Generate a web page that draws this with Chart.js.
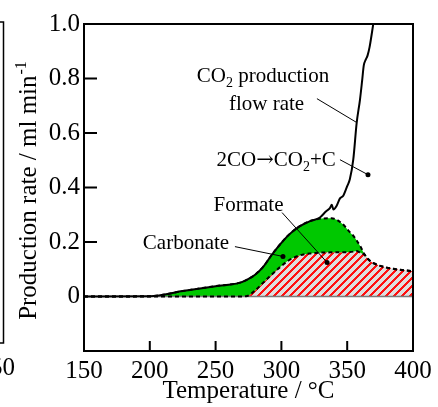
<!DOCTYPE html>
<html>
<head>
<meta charset="utf-8">
<script src="https://cdn.jsdelivr.net/npm/chart.js@4.4.1/dist/chart.umd.min.js"></script>
<style>
  html, body { margin: 0; padding: 0; background: #fff; }
  #wrap { width: 438px; height: 407px; position: relative; }
</style>
</head>
<body>
<div id="wrap"><canvas id="tprChart"></canvas></div>
<script>
// shared temperature grid for the two stacked areas (°C)
const tempGrid    = [150, 200, 225, 250, 268, 274, 280, 286, 293, 300, 306, 314, 322, 330, 338, 346, 352, 355, 357, 360, 363, 367, 372, 380, 390, 400];
// formate (hatched, from zero)
const formateRate = [0, 0, 0, 0, 0, 0.002, 0.022, 0.05, 0.082, 0.112, 0.134, 0.151, 0.158, 0.161, 0.162, 0.162, 0.163, 0.165, 0.167, 0.161, 0.154, 0.132, 0.118, 0.106, 0.098, 0.093];
// formate + carbonate (top of green area)
const totalRate   = [0, 0.001, 0.02, 0.038, 0.05, 0.062, 0.08, 0.108, 0.155, 0.197, 0.228, 0.258, 0.277, 0.286, 0.287, 0.268, 0.236, 0.221, 0.207, 0.184, 0.156, 0.132, 0.118, 0.106, 0.098, 0.093];

// CO2 production flow rate
const co2Temp = [150, 200, 225, 250, 268, 274, 280, 286, 293, 300, 306, 314, 322, 329, 334, 337, 338.3, 339.5, 342, 344.5, 347, 350, 352, 354.6, 357.2, 359.7, 361.3, 362.6, 364, 365.5, 367, 369.8, 372];
const co2Rate = [0, 0.001, 0.02, 0.038, 0.05, 0.062, 0.08, 0.108, 0.155, 0.197, 0.228, 0.258, 0.277, 0.289, 0.313, 0.325, 0.337, 0.319, 0.333, 0.36, 0.37, 0.405, 0.43, 0.502, 0.637, 0.722, 0.79, 0.848, 0.868, 0.885, 0.915, 1.0, 1.07];

const xTicks = [150, 200, 250, 300, 350, 400];
const yTicks = [0, 0.2, 0.4, 0.6, 0.8, 1.0];

const SERIF = "'Liberation Serif', 'Times New Roman', serif";

// text notes, placed in data coordinates
const notes = [
    { parts: [['CO'], ['2', 'sub'], [' production']], at: [286, 0.788] },
    { parts: [['flow rate']], at: [288.7, 0.686] },
    { parts: [['2CO'], ['→', 'arrow'], ['CO'], ['2', 'sub'], ['+C']], at: [296, 0.48] },
    { parts: [['Formate']], at: [275, 0.312] },
    { parts: [['Carbonate']], at: [227.5, 0.176] },
];
const leaders = [
    { from: [327, 0.726], to: [357.4, 0.638], dot: false },
    { from: [344.5, 0.502], to: [365.8, 0.447], dot: true },
    { from: [300.5, 0.308], to: [334.7, 0.125], dot: true },
    { from: [264.7, 0.183], to: [301.2, 0.147], dot: true },
];

const pts = (xs, ys) => xs.map((t, i) => ({ x: t, y: ys[i] }));

// red / grey diagonal hatch for the formate area (crisp pixels)
function makeHatch() {
    const s = 8;
    const c = document.createElement('canvas');
    c.width = s; c.height = s;
    const g = c.getContext('2d');
    g.fillStyle = '#dedede';
    g.fillRect(0, 0, s, s);
    g.fillStyle = '#ff1010';
    for (let i = 0; i < s; i++) {
        for (let j = 0; j < s; j++) {
            if ((i + j) % s < 3) g.fillRect(i, j, 1, 1);
        }
    }
    return g.createPattern(c, 'repeat');
}

function partFont(p) {
    if (p[1] === 'sub') return '14px ' + SERIF;
    if (p[1] === 'arrow') return "21px 'DejaVu Serif', serif";
    return '21px ' + SERIF;
}

function drawParts(ctx, parts, cx, cy) {
    let total = 0;
    parts.forEach(p => { ctx.font = partFont(p); total += ctx.measureText(p[0]).width; });
    let x = cx - total / 2;
    ctx.textAlign = 'left';
    ctx.textBaseline = 'alphabetic';
    parts.forEach(p => {
        ctx.font = partFont(p);
        ctx.fillText(p[0], x, p[1] === 'sub' ? cy + 5 : cy);
        x += ctx.measureText(p[0]).width;
    });
}

const decorations = {
    id: 'decorations',
    beforeDatasetsDraw(chart) {
        const { ctx, chartArea: a, scales: { y } } = chart;
        const y0 = y.getPixelForValue(0);
        ctx.save();
        ctx.strokeStyle = '#7a7a7a';
        ctx.lineWidth = 1.5;
        ctx.beginPath(); ctx.moveTo(a.left, y0); ctx.lineTo(a.right, y0); ctx.stroke();
        ctx.restore();
    },
    afterDraw(chart) {
        const { ctx, chartArea: a, scales: { x, y } } = chart;
        ctx.save();
        ctx.fillStyle = '#000';
        ctx.strokeStyle = '#000';

        // frame
        ctx.lineWidth = 2;
        ctx.strokeRect(a.left, a.top, a.right - a.left, a.bottom - a.top);

        // inward ticks
        ctx.beginPath();
        yTicks.filter(v => v > 0 && v < 1).forEach(v => {
            const py = y.getPixelForValue(v);
            ctx.moveTo(a.left, py); ctx.lineTo(a.left + 13, py);
        });
        xTicks.filter(v => v > 150 && v < 400).forEach(v => {
            const px = x.getPixelForValue(v);
            ctx.moveTo(px, a.bottom); ctx.lineTo(px, a.bottom - 10);
        });
        ctx.stroke();

        // leader lines and dots
        ctx.lineWidth = 1;
        leaders.forEach(l => {
            const x1 = x.getPixelForValue(l.from[0]), y1 = y.getPixelForValue(l.from[1]);
            const x2 = x.getPixelForValue(l.to[0]), y2 = y.getPixelForValue(l.to[1]);
            ctx.beginPath(); ctx.moveTo(x1, y1); ctx.lineTo(x2, y2); ctx.stroke();
            if (l.dot) {
                ctx.beginPath(); ctx.arc(x2, y2, 2.5, 0, Math.PI * 2); ctx.fill();
            }
        });

        notes.forEach(n => drawParts(ctx, n.parts, x.getPixelForValue(n.at[0]), y.getPixelForValue(n.at[1])));

        // y axis title with superscript
        ctx.translate(36, 191);
        ctx.rotate(-Math.PI / 2);
        const main = 'Production rate / ml min', sup = '-1';
        ctx.font = '25px ' + SERIF;
        const w1 = ctx.measureText(main).width;
        ctx.font = '16px ' + SERIF;
        const w2 = ctx.measureText(sup).width;
        ctx.textAlign = 'left';
        ctx.textBaseline = 'alphabetic';
        ctx.font = '25px ' + SERIF;
        ctx.fillText(main, -(w1 + w2) / 2, 0);
        ctx.font = '16px ' + SERIF;
        ctx.fillText(sup, -(w1 + w2) / 2 + w1 + 1, -10);
        ctx.restore();

        // right edge of the neighbouring panel
        ctx.save();
        ctx.strokeStyle = '#000';
        ctx.lineWidth = 1.5;
        ctx.beginPath();
        ctx.moveTo(0, 22); ctx.lineTo(3.5, 22); ctx.lineTo(3.5, 343); ctx.lineTo(0, 343);
        ctx.stroke();
        ctx.fillStyle = '#000';
        ctx.font = '25px ' + SERIF;
        ctx.textAlign = 'right';
        ctx.textBaseline = 'middle';
        ctx.fillText('50', 15, 368);
        ctx.restore();
    }
};

new Chart(document.getElementById('tprChart'), {
    type: 'line',
    data: {
        datasets: [
            {
                label: 'CO2 production flow rate',
                data: pts(co2Temp, co2Rate),
                borderColor: '#000',
                borderWidth: 2,
                pointRadius: 0,
                fill: false,
                cubicInterpolationMode: 'monotone',
            },
            {
                label: 'Carbonate',
                data: pts(tempGrid, totalRate),
                borderColor: '#000',
                borderWidth: 2,
                borderDash: [4, 3],
                backgroundColor: '#00c800',
                pointRadius: 0,
                fill: 2,
                cubicInterpolationMode: 'monotone',
            },
            {
                label: 'Formate',
                data: pts(tempGrid, formateRate),
                borderColor: '#000',
                borderWidth: 2,
                borderDash: [4, 3],
                backgroundColor: makeHatch(),
                pointRadius: 0,
                fill: 'origin',
                cubicInterpolationMode: 'monotone',
            },
        ],
    },
    options: {
        responsive: true,
        maintainAspectRatio: false,
        animation: false,
        layout: { padding: { left: 0, right: 25, top: 24, bottom: 0 } },
        plugins: {
            legend: { display: false },
            tooltip: { enabled: false },
            filler: { drawTime: 'beforeDatasetsDraw' },
        },
        scales: {
            x: {
                type: 'linear',
                min: 150, max: 400,
                afterBuildTicks: s => { s.ticks = xTicks.map(v => ({ value: v })); },
                afterFit: s => { s.height = 56; },
                grid: { display: false, drawTicks: false },
                border: { display: false },
                ticks: { color: '#000', font: { family: SERIF, size: 25 }, padding: 5, maxRotation: 0, autoSkip: false },
                title: { display: true, text: 'Temperature / °C', color: '#000', font: { family: SERIF, size: 25 }, padding: { top: 0, bottom: 1 } },
            },
            y: {
                type: 'linear',
                min: -0.2, max: 1.0,
                afterBuildTicks: s => { s.ticks = yTicks.map(v => ({ value: v })); },
                afterFit: s => { s.width = 84; },
                grid: { display: false, drawTicks: false },
                border: { display: false },
                ticks: {
                    color: '#000',
                    font: { family: SERIF, size: 25 },
                    padding: 4,
                    autoSkip: false,
                    callback: v => (Math.abs(v) < 1e-9 ? '0' : v.toFixed(1)),
                },
            },
        },
    },
    plugins: [decorations],
});
</script>
</body>
</html>
